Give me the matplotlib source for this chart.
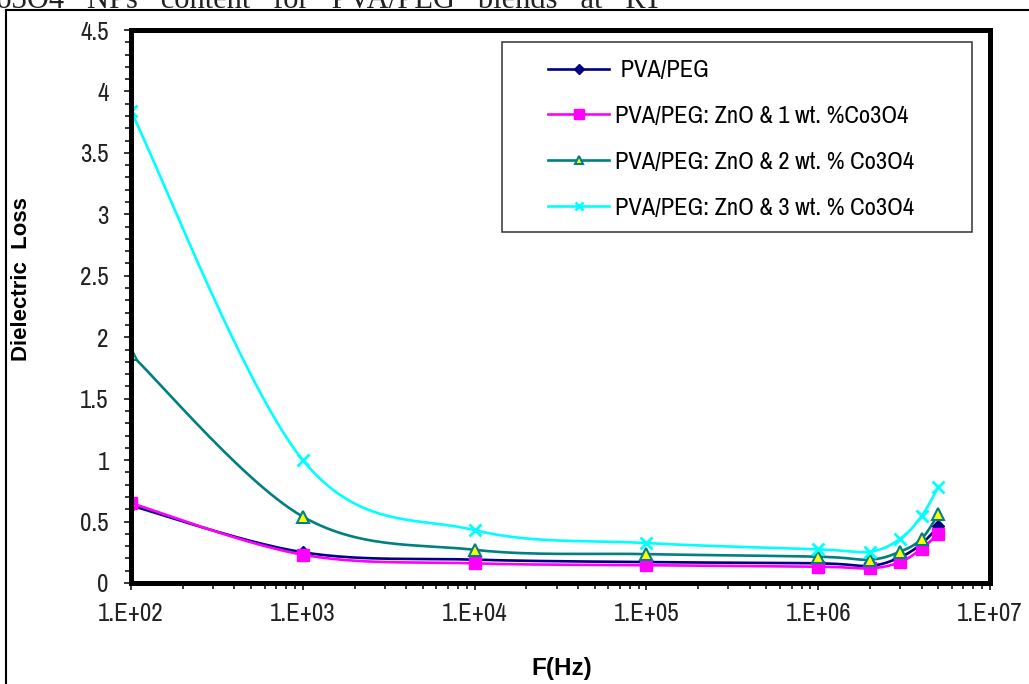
import matplotlib
matplotlib.use("Agg")
import matplotlib.pyplot as plt
from matplotlib import font_manager
from matplotlib.lines import Line2D
from matplotlib.patches import Rectangle
from matplotlib.ticker import FixedLocator, MultipleLocator, LogLocator, NullFormatter, FuncFormatter
import numpy as np

# fonts: a narrow sans looks closest to the squeezed Excel picture, else plain Arial metrics
SANS = "Liberation Sans"
SERIF = "Liberation Serif"
narrow = sorted({f.name for f in font_manager.fontManager.ttflist
                 if "Narrow" in f.name or "Condensed" in f.name})
if narrow:
    NARROW, FS_TICK, FS_LEG = narrow[0], 18, 17.6
else:
    NARROW, FS_TICK, FS_LEG = SANS, 15, 14.6

# data
freq = [1e2, 1e3, 1e4, 1e5, 1e6, 2e6, 3e6, 4e6, 5e6]
pva_peg = [0.63, 0.25, 0.19, 0.17, 0.16, 0.14, 0.21, 0.32, 0.46]
zno_co1 = [0.65, 0.23, 0.16, 0.145, 0.133, 0.12, 0.17, 0.28, 0.40]
zno_co2 = [1.86, 0.54, 0.27, 0.235, 0.214, 0.19, 0.255, 0.36, 0.56]
zno_co3 = [3.84, 1.0, 0.43, 0.325, 0.274, 0.255, 0.36, 0.545, 0.78]
labels = [" PVA/PEG", "PVA/PEG: ZnO & 1 wt. %Co3O4",
          "PVA/PEG: ZnO & 2 wt. % Co3O4", "PVA/PEG: ZnO & 3 wt. % Co3O4"]
y_ticks = [0, 0.5, 1, 1.5, 2, 2.5, 3, 3.5, 4, 4.5]


def smooth(xs, ys, n=30):
    """Excel-like smoothed line: bezier through points in (log x, y)."""
    p = np.column_stack([np.log10(xs), ys])
    m = len(p)
    out = []
    for i in range(m - 1):
        p0 = p[i - 1] if i > 0 else p[i]
        p1, p2 = p[i], p[i + 1]
        p3 = p[i + 2] if i + 2 < m else p[i + 1]
        c1 = p1 + (p2 - p0) / 6
        c2 = p2 - (p3 - p1) / 6
        t = np.linspace(0, 1, n)[:, None]
        seg = ((1 - t) ** 3 * p1 + 3 * (1 - t) ** 2 * t * c1
               + 3 * (1 - t) * t ** 2 * c2 + t ** 3 * p2)
        out.append(seg if i == 0 else seg[1:])
    out = np.vstack(out)
    return 10 ** out[:, 0], out[:, 1]


fig = plt.figure(figsize=(10.29, 6.84), dpi=100)
ax = fig.add_axes([131 / 1029, 1 - 583 / 684, (990 - 131) / 1029, (583 - 30) / 684])

styles = [
    dict(color="#000080", marker="D", ms=6, mfc="#000080", mec="#000080"),
    dict(color="#FF00FF", marker="s", ms=9, mfc="#FF00FF", mec="#FF00FF"),
    dict(color="#008080", marker="^", ms=8, mfc="#FFFF00", mec="#008080", mew=1.5),
    dict(color="#00FFFF", marker="x", ms=8, mfc="#00FFFF", mec="#00FFFF", mew=2),
]
handles = []
for ys, st, lab in zip([pva_peg, zno_co1, zno_co2, zno_co3], styles, labels):
    sx, sy = smooth(freq, ys)
    ax.plot(sx, sy, color=st["color"], lw=1.9, solid_capstyle="round")
    ax.plot(freq, ys, ls="none", marker=st["marker"], ms=st["ms"], mfc=st["mfc"],
            mec=st["mec"], mew=st.get("mew", 1))
    handles.append(Line2D([], [], color=st["color"], lw=1.9, marker=st["marker"],
                          ms=st["ms"] * 0.8, mfc=st["mfc"], mec=st["mec"], mew=st.get("mew", 1)))

ax.set_xscale("log")
ax.set_xlim(1e2, 1e7)
ax.set_ylim(0, 4.5)
ax.xaxis.set_major_locator(LogLocator(base=10, numticks=10))
ax.xaxis.set_minor_locator(LogLocator(base=10, subs=np.arange(2, 10), numticks=20))
ax.xaxis.set_minor_formatter(NullFormatter())
ax.xaxis.set_major_formatter(FuncFormatter(lambda v, p: "1.E+%02d" % round(np.log10(v))))
ax.yaxis.set_major_locator(FixedLocator(y_ticks))
ax.yaxis.set_minor_locator(MultipleLocator(0.1))
ax.yaxis.set_major_formatter(FuncFormatter(lambda v, p: ("%g" % v)))

for s in ax.spines.values():
    s.set_linewidth(3.6)
ax.tick_params(which="major", direction="out", length=5, width=1.1, color="black",
               labelsize=FS_TICK, pad=9)
ax.tick_params(which="minor", direction="out", length=4, width=1.1, color="black")
ax.tick_params(axis="y", pad=11)
for lab in ax.get_xticklabels() + ax.get_yticklabels():
    lab.set_fontfamily(NARROW)
    lab.set_color("#222222")

ax.set_ylabel("Dielectric  Loss", fontfamily=SANS, fontweight="bold", fontsize=16)
ax.yaxis.set_label_coords(-0.115, 0.55)
fig.text(562 / 1029, 1 - 668 / 684, "F(Hz)", fontfamily=SANS, fontweight="bold",
         fontsize=17.5, ha="center", va="center")

# legend with a hand drawn box (Excel padding is not symmetric)
fig.patches.append(Rectangle((502 / 1029, 1 - 232 / 684), 470 / 1029, 190 / 684,
                             transform=fig.transFigure, fill=True, fc="white",
                             ec="#333333", lw=1.1, zorder=3))
leg = fig.legend(handles, labels, loc="upper left",
                 bbox_to_anchor=(526 / 1029, 1 - 38 / 684), frameon=False,
                 prop=dict(family=NARROW, size=FS_LEG), handlelength=2.5,
                 handletextpad=0.25, labelspacing=1.01)
leg.set_zorder(4)

# outer frame of the document figure and the clipped caption above it
fig.add_artist(Line2D([6 / 1029, 6 / 1029], [0, 1 - 10 / 684], transform=fig.transFigure,
                      color="black", lw=1.5))
fig.add_artist(Line2D([6 / 1029, 1], [1 - 10 / 684, 1 - 10 / 684], transform=fig.transFigure,
                      color="black", lw=1.5))
fig.text(-24 / 1029, 1 - 8 / 684, "Co3O4   NPs   content   for   PVA/PEG   blends   at   RT",
         fontfamily=SERIF, fontsize=22, ha="left", va="baseline", color="#222222")

fig.savefig("out.png", dpi=100, facecolor="white")
